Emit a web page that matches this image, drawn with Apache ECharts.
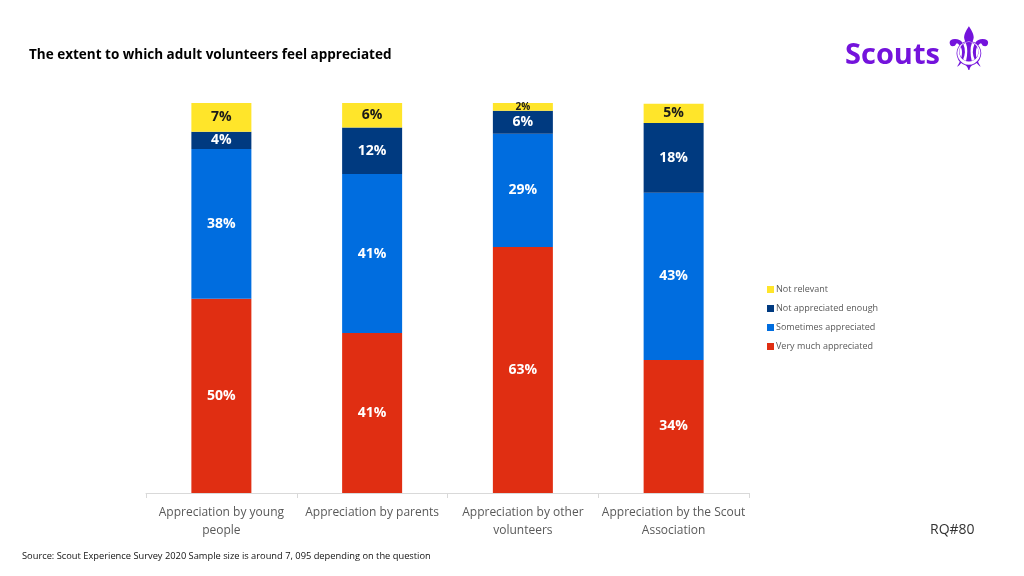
<!DOCTYPE html>
<html>
<head>
<meta charset="utf-8">
<script src="https://cdn.jsdelivr.net/npm/echarts@6/dist/echarts.min.js"></script>
<style>html,body{margin:0;padding:0;background:#fff}#c{width:1024px;height:576px}</style>
</head>
<body>
<div id="c"></div>
<script>
const categories = ["Appreciation by young\npeople", "Appreciation by parents", "Appreciation by other\nvolunteers", "Appreciation by the Scout\nAssociation"];
const veryMuch = [49.8, 41.0, 63.1, 34.1];
const sometimes = [38.4, 40.8, 29.0, 42.9];
const notEnough = [4.4, 11.9, 5.9, 17.9];
const notRelevant = [7.4, 6.3, 2.2, 4.9];
const seriesNames = ["Very much appreciated", "Sometimes appreciated", "Not appreciated enough", "Not relevant"];
const legendOrder = ["Not relevant", "Not appreciated enough", "Sometimes appreciated", "Very much appreciated"];
const colors = ["#e02e12", "#006ddf", "#003a80", "#ffe52a"];

const chart = echarts.init(document.getElementById('c'));
const font = '"Open Sans", Lato, sans-serif';
function mk(name, data, color, labelColor) {
  return {
    name: name, type: 'bar', stack: 'total', data: data, barWidth: 60,
    itemStyle: { color: color },
    label: {
      show: true, position: 'inside', color: labelColor,
      fontFamily: font, fontWeight: 'bold', fontSize: 14,
      formatter: function (p) {
        return p.value < 3 ? '{s|' + Math.round(p.value) + '%}' : Math.round(p.value) + '%';
      },
      rich: { s: { fontSize: 10, fontWeight: 'bold', color: labelColor, fontFamily: font } }
    }
  };
}
chart.setOption({
  animation: false,
  textStyle: { fontFamily: font },
  title: {
    text: 'The extent to which adult volunteers feel appreciated',
    left: 24, top: 43,
    textStyle: { fontFamily: font, fontWeight: 'bold', fontSize: 13.5, color: '#000' }
  },
  grid: { left: 146, right: 275, top: 103, bottom: 83 },
  legend: {
    orient: 'vertical', left: 762, top: 280, itemGap: 10,
    itemWidth: 7, itemHeight: 7, icon: 'rect',
    data: legendOrder,
    textStyle: { fontFamily: font, fontSize: 9, color: '#595959', padding: [0, 0, 0, -3] }
  },
  xAxis: {
    type: 'category', data: categories,
    axisLine: { lineStyle: { color: '#d9d9d9' } },
    axisTick: { show: true, length: 5, lineStyle: { color: '#d9d9d9' } },
    axisLabel: { interval: 0, color: '#595959', fontSize: 12, lineHeight: 18, margin: 11, fontFamily: font }
  },
  yAxis: { type: 'value', min: 0, max: 100, show: false, splitLine: { show: false } },
  series: [
    mk(seriesNames[0], veryMuch, colors[0], '#fff'),
    mk(seriesNames[1], sometimes, colors[1], '#fff'),
    mk(seriesNames[2], notEnough, colors[2], '#fff'),
    mk(seriesNames[3], notRelevant, colors[3], '#1a1a1a')
  ],
  graphic: [
    { type: 'text', left: 845, top: 41, style: { text: 'Scouts', font: 'bold 29px ' + font, fill: '#7413dc' } },
    { type: 'text', left: 942, top: 24, style: { text: '\u269C', font: '60px "DejaVu Sans"', fill: '#7413dc' } },
    { type: 'text', left: 930, top: 523, style: { text: 'RQ#80', font: '14px ' + font, fill: '#333' } },
    { type: 'text', left: 22, top: 552, style: { text: 'Source: Scout Experience Survey 2020 Sample size is around 7, 095 depending on the question', font: '9.3px ' + font, fill: '#111' } }
  ]
});
</script>
</body>
</html>
